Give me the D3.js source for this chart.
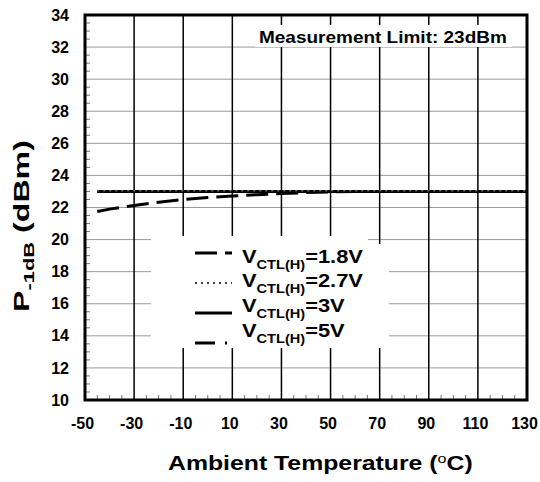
<!DOCTYPE html>
<html>
<head>
<meta charset="utf-8">
<script src="https://cdn.jsdelivr.net/npm/d3@7"></script>
<style>
  body { margin: 0; background: #fff; }
  svg { display: block; }
  text { font-family: Arial, "Liberation Sans", sans-serif; font-weight: bold; fill: #000; }
</style>
</head>
<body>
<svg id="chart" width="540" height="482"></svg>
<script>
// ---- data ----
const temps = [-45, -40, -30, -20, -10, 0, 10, 20, 30, 40, 50, 60, 70, 80, 90, 100, 110, 120, 130];
const v18 = [21.75, 21.9, 22.13, 22.33, 22.5, 22.62, 22.72, 22.8, 22.87, 22.93, 22.97, 22.99, 23.0, 23.0, 23.0, 23.0, 23.0, 23.0, 23.0];
const v27 = [23.05, 23.05, 23.05, 23.05, 23.05, 23.05, 23.05, 23.05, 23.05, 23.05, 23.05, 23.05, 23.05, 23.05, 23.05, 23.05, 23.05, 23.05, 23.05];
const v3  = [23, 23, 23, 23, 23, 23, 23, 23, 23, 23, 23, 23, 23, 23, 23, 23, 23, 23, 23];
const v5  = [23, 23, 23, 23, 23, 23, 23, 23, 23, 23, 23, 23, 23, 23, 23, 23, 23, 23, 23];
const xTicks = [-50, -30, -10, 10, 30, 50, 70, 90, 110, 130];
const yTicks = [10, 12, 14, 16, 18, 20, 22, 24, 26, 28, 30, 32, 34];
const seriesNames = ["=1.8V", "=2.7V", "=3V", "=5V"];
const annotation = "Measurement Limit: 23dBm";

// ---- layout ----
const svg = d3.select("#chart");
const L = 85, R = 527, T = 15, B = 400;
const x = d3.scaleLinear().domain([-50, 130]).range([L, R]);
const y = d3.scaleLinear().domain([10, 34]).range([B, T]);
const FONT = "Arial, 'Liberation Sans', sans-serif";

// stretch a text element horizontally (in its own frame) to a target length
function stretch(sel, target, anchorX, anchorY, rotate) {
  const w = sel.node().getComputedTextLength();
  const s = target / w;
  sel.attr("transform", `translate(${anchorX},${anchorY})${rotate ? " rotate(" + rotate + ")" : ""} scale(${s},1)`);
  return s;
}

// horizontal grid (gray)
svg.append("g").selectAll("line").data(yTicks.slice(1, -1)).join("line")
  .attr("x1", L).attr("x2", R).attr("y1", d => y(d)).attr("y2", d => y(d))
  .attr("stroke", "#9a9a9a").attr("stroke-width", 1);
// vertical grid (black)
svg.append("g").selectAll("line").data(xTicks.slice(1, -1)).join("line")
  .attr("x1", d => x(d)).attr("x2", d => x(d)).attr("y1", T).attr("y2", B)
  .attr("stroke", "#000").attr("stroke-width", 1.5);

// minor ticks
const yMinor = d3.range(10.5, 34, 0.5).filter(v => Math.abs(v % 2) > 1e-6);
svg.append("g").selectAll("line").data(yMinor).join("line")
  .attr("x1", L).attr("x2", L + 5).attr("y1", d => y(d)).attr("y2", d => y(d))
  .attr("stroke", "#777").attr("stroke-width", 1);
const xMinor = d3.range(-45, 130, 5).filter(v => ((v + 50) % 20) !== 0);
svg.append("g").selectAll("line").data(xMinor).join("line")
  .attr("x1", d => x(d)).attr("x2", d => x(d)).attr("y1", B).attr("y2", B - 5)
  .attr("stroke", "#777").attr("stroke-width", 1);

// axes labels via d3 axes
const xAxis = d3.axisBottom(x).tickValues(xTicks).tickSize(0).tickPadding(18).tickFormat(d => String(d));
const gx = svg.append("g").attr("transform", `translate(-3,${B})`).call(xAxis);
gx.select(".domain").remove();
gx.selectAll("text").attr("font-size", 16).attr("font-family", FONT).attr("font-weight", "bold").attr("fill", "#000");

const yAxis = d3.axisLeft(y).tickValues(yTicks).tickSize(0).tickPadding(16).tickFormat(d => String(d));
const gy = svg.append("g").attr("transform", `translate(${L},0)`).call(yAxis);
gy.select(".domain").remove();
gy.selectAll("text").attr("font-size", 16).attr("font-family", FONT).attr("font-weight", "bold").attr("fill", "#000");

// annotation box
svg.append("rect").attr("x", 255).attr("y", 25).attr("width", 257).attr("height", 22).attr("fill", "#fff");
const ann = svg.append("text").attr("font-size", 16).text(annotation);
stretch(ann, 248, 259, 43);

// lines
const line = d3.line().x((d, i) => x(temps[i])).y(d => y(d));
const styles = [
  { data: v3,  dash: null,          w: 3 },
  { data: v5,  dash: "20,10,2,10",  w: 3 },
  { data: v18, dash: "22,8",        w: 3 },
  { data: v27, dash: "2,4",         w: 1.5, color: "#666" }
];
styles.forEach(s => {
  svg.append("path").attr("d", line(s.data)).attr("fill", "none")
    .attr("stroke", s.color || "#000").attr("stroke-width", s.w)
    .attr("stroke-dasharray", s.dash);
});

// legend
svg.append("rect").attr("x", 151).attr("y", 236).attr("width", 217).attr("height", 112).attr("fill", "#fff");
svg.append("rect").attr("x", 151).attr("y", 244).attr("width", 238).attr("height", 104).attr("fill", "#fff");
const legendStyles = [
  { dash: "22,8", w: 3 },
  { dash: "2,4", w: 1.5 },
  { dash: null, w: 3 },
  { dash: "20,10,2,10", w: 3 }
];
const sampleY = [253, 283, 313, 343];
const textY = [263, 287, 312, 337];
let legScale = null;
legendStyles.forEach((s, i) => {
  svg.append("line").attr("x1", 195).attr("x2", 232).attr("y1", sampleY[i]).attr("y2", sampleY[i])
    .attr("stroke", "#000").attr("stroke-width", s.w).attr("stroke-dasharray", s.dash);
  const t = svg.append("text").attr("font-size", 18);
  t.append("tspan").text("V");
  t.append("tspan").attr("font-size", 12).attr("dy", 6).text("CTL(H)");
  t.append("tspan").attr("dy", -6).text(seriesNames[i]);
  if (legScale === null) {
    legScale = stretch(t, 121, 242, textY[i]);
  } else {
    t.attr("transform", `translate(242,${textY[i]}) scale(${legScale},1)`);
  }
});

// border
svg.append("rect").attr("x", L).attr("y", T).attr("width", R - L).attr("height", B - T)
  .attr("fill", "none").attr("stroke", "#000").attr("stroke-width", 3);

// axis titles
const xt = svg.append("text").attr("font-size", 20);
xt.append("tspan").text("Ambient Temperature (");
xt.append("tspan").attr("font-size", 13).attr("dy", -7).attr("font-weight", "normal").text("o");
xt.append("tspan").attr("dy", 7).text("C)");
stretch(xt, 305, 168, 470);

const yt = svg.append("text").attr("font-size", 22);
yt.append("tspan").text("P");
yt.append("tspan").attr("font-size", 15).attr("dy", 5).text("-1dB");
yt.append("tspan").attr("dy", -5).text(" (dBm)");
stretch(yt, 172, 29, 312, -90);
</script>
</body>
</html>
